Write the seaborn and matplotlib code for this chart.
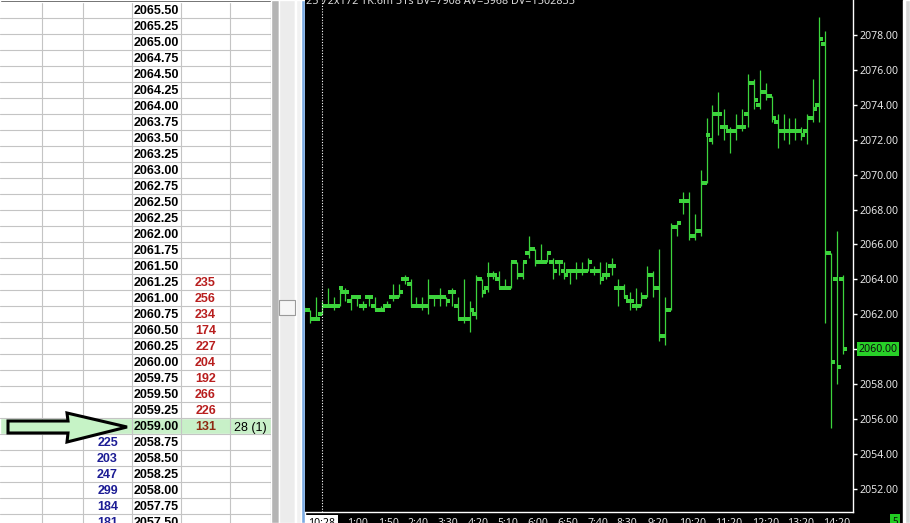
import matplotlib
matplotlib.use("Agg")
import matplotlib.pyplot as plt
from matplotlib.patches import Rectangle, Polygon
import numpy as np
import seaborn as sns

# ---- DOM ladder (left panel) ----
ladder_prices = ["2065.50", "2065.25", "2065.00", "2064.75", "2064.50", "2064.25",
                 "2064.00", "2063.75", "2063.50", "2063.25", "2063.00", "2062.75",
                 "2062.50", "2062.25", "2062.00", "2061.75", "2061.50", "2061.25",
                 "2061.00", "2060.75", "2060.50", "2060.25", "2060.00", "2059.75",
                 "2059.50", "2059.25", "2059.00", "2058.75", "2058.50", "2058.25",
                 "2058.00", "2057.75", "2057.50"]
ask_prices = ["2061.25", "2061.00", "2060.75", "2060.50", "2060.25",
              "2060.00", "2059.75", "2059.50", "2059.25", "2059.00"]
ask_sizes = [235, 256, 234, 174, 227, 204, 192, 266, 226, 131]
bid_prices = ["2058.75", "2058.50", "2058.25", "2058.00", "2057.75", "2057.50"]
bid_sizes = [225, 203, 247, 299, 184, 181]
last_price = "2059.00"
last_trade = "28 (1)"

# ---- 10 minute OHLC bars (right panel) ----
opens = [2062.25, 2062.25, 2061.75, 2062.0, 2062.5, 2062.5, 2062.5, 2063.25, 2062.75, 2063.0,
         2062.5, 2063.0, 2062.5, 2062.25, 2062.5, 2063.0, 2063.0, 2064.0, 2063.75, 2062.5,
         2062.5, 2062.5, 2063.0, 2063.0, 2063.0, 2063.25, 2062.5, 2061.75, 2061.75, 2062.0,
         2064.0, 2063.5, 2064.25, 2064.0, 2063.5, 2063.5, 2065.0, 2064.25, 2065.5, 2065.75,
         2065.0, 2065.0, 2065.0, 2065.0, 2064.5, 2064.5, 2064.5, 2064.5, 2064.5, 2064.5,
         2064.5, 2064.25, 2064.75, 2063.5, 2063.5, 2062.75, 2062.5, 2062.5, 2063.0, 2064.25,
         2063.5, 2060.75, 2062.25, 2067.0, 2068.5, 2068.5, 2066.5, 2066.75, 2069.5, 2072.0,
         2073.5, 2072.75, 2072.5, 2072.5, 2072.75, 2073.5, 2075.25, 2074.0, 2074.75, 2074.5,
         2073.0, 2072.5, 2072.5, 2072.5, 2072.5, 2072.5, 2073.25, 2074.0, 2077.5, 2065.5,
         2064.0, 2064.0]
highs = [2062.5, 2062.25, 2063.0, 2062.75, 2063.5, 2063.0, 2063.5, 2063.5, 2063.0, 2063.0,
         2062.75, 2063.0, 2063.0, 2062.5, 2062.75, 2063.75, 2063.75, 2064.25, 2064.0, 2063.0,
         2063.0, 2064.0, 2063.0, 2063.5, 2063.0, 2063.5, 2063.0, 2064.0, 2062.75, 2064.25,
         2064.0, 2065.0, 2064.5, 2064.5, 2064.0, 2065.0, 2065.0, 2065.0, 2066.5, 2065.75,
         2066.0, 2065.5, 2065.25, 2065.0, 2065.0, 2064.5, 2065.0, 2065.0, 2065.25, 2064.75,
         2065.0, 2065.0, 2065.25, 2064.0, 2063.75, 2063.25, 2063.5, 2063.25, 2064.75, 2064.5,
         2065.75, 2063.0, 2067.25, 2067.25, 2069.0, 2069.0, 2067.75, 2070.25, 2073.25, 2074.0,
         2074.75, 2073.75, 2072.75, 2073.5, 2073.75, 2075.75, 2075.5, 2076.0, 2075.25, 2074.5,
         2073.5, 2073.5, 2073.25, 2073.25, 2072.75, 2073.5, 2075.5, 2079.0, 2078.25, 2065.5,
         2066.75, 2064.25]
lows = [2062.0, 2061.5, 2061.75, 2062.0, 2062.5, 2062.25, 2062.5, 2062.75, 2062.25, 2062.5,
        2062.25, 2062.5, 2062.25, 2062.25, 2062.5, 2062.75, 2063.0, 2063.75, 2062.5, 2062.5,
        2062.25, 2062.0, 2062.5, 2062.5, 2062.5, 2062.5, 2061.75, 2061.5, 2061.0, 2061.75,
        2063.0, 2063.25, 2064.0, 2063.5, 2063.5, 2063.5, 2064.0, 2064.0, 2065.25, 2064.75,
        2065.0, 2065.0, 2064.0, 2064.25, 2064.0, 2063.75, 2064.0, 2064.25, 2064.5, 2064.25,
        2063.75, 2064.0, 2064.25, 2062.5, 2063.0, 2062.25, 2062.25, 2062.5, 2063.0, 2063.0,
        2060.5, 2060.25, 2062.25, 2066.5, 2067.75, 2066.25, 2066.25, 2066.5, 2069.5, 2071.75,
        2072.25, 2072.0, 2071.25, 2072.0, 2072.5, 2072.75, 2073.75, 2073.75, 2074.25, 2073.0,
        2071.5, 2072.0, 2071.75, 2072.0, 2072.0, 2071.75, 2073.0, 2073.0, 2061.5, 2055.5,
        2058.0, 2059.75]
closes = [2062.25, 2061.75, 2061.75, 2062.5, 2062.5, 2062.5, 2063.5, 2063.25, 2063.0, 2063.0,
          2062.5, 2063.0, 2062.25, 2062.25, 2062.5, 2063.0, 2063.25, 2064.0, 2062.5, 2062.5,
          2062.5, 2063.0, 2063.0, 2063.0, 2062.75, 2063.25, 2061.75, 2061.75, 2062.25, 2064.0,
          2063.25, 2064.25, 2064.25, 2063.5, 2063.5, 2065.0, 2064.25, 2065.0, 2065.75, 2065.0,
          2065.0, 2065.5, 2064.5, 2065.0, 2064.25, 2064.5, 2064.5, 2064.5, 2065.0, 2064.5,
          2064.0, 2064.25, 2064.75, 2063.5, 2063.0, 2062.75, 2062.5, 2063.0, 2064.25, 2063.5,
          2060.75, 2062.25, 2067.0, 2067.25, 2068.5, 2066.5, 2066.75, 2069.5, 2072.25, 2073.5,
          2073.5, 2072.75, 2072.5, 2072.75, 2072.75, 2075.25, 2074.25, 2074.75, 2074.5, 2073.25,
          2072.5, 2072.5, 2072.5, 2072.5, 2072.25, 2073.25, 2073.75, 2077.75, 2065.5, 2059.25,
          2059.0, 2060.0]

time_ticks = [3, 9.1, 14.2, 19.3, 24.3, 29.4, 34.5, 39.5, 44.6, 49.7,
              54.6, 59.8, 65.7, 71.8, 77.9, 83.9, 90.0]
time_labels = ["10:28", "1:00", "1:50", "2:40", "3:30", "4:20", "5:10", "6:00", "6:50",
               "7:40", "8:30", "9:20", "10:20", "11:20", "12:20", "13:20", "14:20"]
price_ticks = [2052, 2054, 2056, 2058, 2060, 2062, 2064, 2066, 2068, 2070,
               2072, 2074, 2076, 2078]
header = "25 72x172 TK:6m 51s BV=7908 AV=5968 DV=1502835"

sns.set_style("white")
plt.rcParams["font.family"] = ["Noto Sans", "DejaVu Sans"]

W, H = 910, 523
fig = plt.figure(figsize=(W / 100, H / 100), dpi=100, facecolor="black")


def frect(x0, y0, x1, y1, color, z=0, **kw):
    # rectangle in screen pixels (y measured from the top)
    fig.add_artist(Rectangle((x0 / W, 1 - y1 / H), (x1 - x0) / W, (y1 - y0) / H,
                             transform=fig.transFigure, facecolor=color, zorder=z, **kw))


# scroll bar / separators between the two panels
frect(271, 0, 279, H, "#b4b4b4")
frect(279, 0, 295, H, "#ececec")
frect(295, 0, 296, H, "#a0a0a0")
frect(296, 0, 301, H, "#f2f2f2")
frect(301, 0, 305, H, "#7aaae2")
frect(279, 300, 295, 315, "#f6f6f6", z=1, edgecolor="#9a9a9a", linewidth=0.8)
frect(903, 0, 905, H, "#ffffff")
frect(905, 0, W, H, "#d6d6d6")

# ---- ladder ----
ax_t = fig.add_axes([0, 0, 271 / W, 1])
ax_t.set_xlim(0, 271)
ax_t.set_ylim(H, 0)
ax_t.axis("off")
ax_t.add_patch(Rectangle((0, 0), 271, H, facecolor="white", zorder=0))
ax_t.add_patch(Rectangle((0, 0), 271, 2, facecolor="#202020", zorder=3))

col_edges = [42, 83, 132, 181, 230]
row_h = 16
ask_map = dict(zip(ask_prices, ask_sizes))
bid_map = dict(zip(bid_prices, bid_sizes))
tfont = dict(family="Liberation Sans", fontsize=9, va="baseline", ha="center")

for k, p in enumerate(ladder_prices):
    top = 2 + row_h * k
    base = top + 12.5
    if p == last_price:
        ax_t.add_patch(Rectangle((0, top), 271, row_h, facecolor="#c8f0c8", zorder=0.5))
    ax_t.text(156.5, base, p, color="black", fontweight="bold", **tfont)
    if p in ask_map:
        c = "#8e2a12" if p == last_price else "#b81e1e"
        ax_t.text(205.5, base, str(ask_map[p]), color=c, fontweight="bold", **tfont)
    if p in bid_map:
        ax_t.text(107.5, base, str(bid_map[p]), color="#1c1c94", fontweight="bold", **tfont)
    if p == last_price:
        ax_t.text(250.5, base, last_trade, color="black", **tfont)
    ax_t.axhline(top + row_h, color="#c4c4c4", lw=0.8, zorder=1)

for e in col_edges:
    ax_t.axvline(e, color="#c4c4c4", lw=0.8, zorder=1)
ax_t.axvline(271, color="#8c8c8c", lw=0.8, zorder=1)

# arrow pointing at the last traded price
arrow = Polygon([(8, 421), (68, 421), (67, 413), (127, 427), (67, 442), (68, 433), (8, 433)],
                closed=True, facecolor="#c6f3c6", edgecolor="black", linewidth=2.2,
                joinstyle="miter", zorder=4)
ax_t.add_patch(arrow)

# ---- price chart ----
ax = fig.add_axes([305 / W, 11 / H, 548 / W, 512 / H])
ax.set_facecolor("black")
green = "#3cd43c"
x = np.arange(len(opens))
ax.vlines(x, lows, highs, color=green, lw=0.9)
sns.scatterplot(x=x - 0.33, y=opens, marker="s", s=5, color=green, linewidth=0, ax=ax, legend=False)
sns.scatterplot(x=x + 0.33, y=closes, marker="s", s=5, color=green, linewidth=0, ax=ax, legend=False)
ax.axvline(time_ticks[0], color="white", ls=(0, (1, 1.5)), lw=0.8)

ax.set_xlim(0.17, 92.74)
ax.set_ylim(2050.68, 2080.0)
for s in ["top", "left"]:
    ax.spines[s].set_visible(False)
for s in ["right", "bottom"]:
    ax.spines[s].set_color("white")
    ax.spines[s].set_linewidth(1)

ax.yaxis.tick_right()
ax.set_yticks(price_ticks, ["" if v == closes[-1] else f"{v:.2f}" for v in price_ticks])
ax.tick_params(axis="y", colors="white", labelcolor="#e6e6e6", length=3, width=1,
               pad=1.5, labelsize=7.6)
ax.set_xticks(time_ticks, time_labels)
ax.tick_params(axis="x", colors="white", labelcolor="#e6e6e6", length=3, width=1,
               pad=1.2, labelsize=7.6)
first = ax.get_xticklabels()[0]
first.set_color("black")
first.set_bbox(dict(facecolor="white", edgecolor="none", pad=1.8))
ax.set_xlabel("")
ax.set_ylabel("")

# current price marker on the price scale
ax.annotate(f"{closes[-1]:.2f}", xy=(1.0, closes[-1]), xycoords=("axes fraction", "data"),
            xytext=(5.5, 0), textcoords="offset pixels", ha="left", va="center",
            fontsize=7.6, color="#0c0c0c", annotation_clip=False,
            bbox=dict(facecolor="#28d028", edgecolor="none", pad=1.0))

fig.text(306 / W, 1 - 4.5 / H, header, ha="left", va="baseline", color="#dcdcdc", fontsize=7.8)
fig.text(895 / W, 1 - 521 / H, "5", ha="center", va="center", color="#0c0c0c", fontsize=7,
         bbox=dict(facecolor="#22cc22", edgecolor="none", pad=1.5))

fig.savefig("out.png", dpi=100, facecolor=fig.get_facecolor())
